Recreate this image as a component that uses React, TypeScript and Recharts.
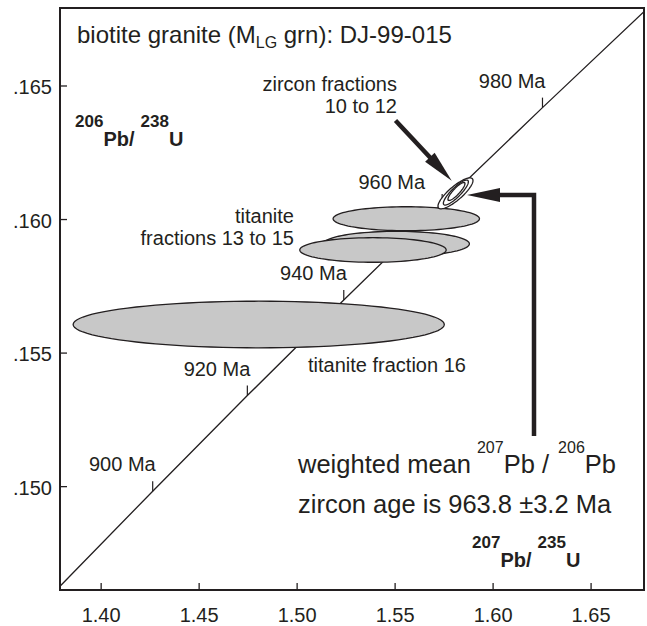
import React from "react";
import {
  ComposedChart,
  Line,
  Scatter,
  XAxis,
  YAxis,
  Customized,
} from "recharts";

// concordia at each age
const concordiaAge = [880, 900, 920, 940, 960, 980, 1000];
const concordiaPb207U235 = [1.379, 1.4263, 1.4746, 1.5238, 1.574, 1.6252, 1.6774];
const concordiaPb206U238 = [0.14627, 0.14983, 0.15341, 0.15699, 0.16058, 0.16419, 0.16781];
const labelledAges = [900, 920, 940, 960, 980];

// titanite fractions: centre, half-widths of the error ellipse, correlation
const titaniteFraction = ["13", "14", "15", "16"];
const titaniteX = [1.5557, 1.5507, 1.5387, 1.4804];
const titaniteY = [0.16003, 0.15909, 0.15886, 0.15607];
const titaniteSx = [0.03735, 0.0372, 0.03735, 0.0947];
const titaniteSy = [0.000449, 0.000468, 0.00046, 0.000872];
const titaniteRho = [0, 0, 0, 0];

// zircon fractions
const zirconFraction = ["10", "11", "12"];
const zirconX = [1.5808, 1.581, 1.5813];
const zirconY = [0.16098, 0.16101, 0.16105];
const zirconSx = [0.00893, 0.00638, 0.00434];
const zirconSy = [0.00058, 0.000468, 0.000337];
const zirconRho = [0.83, 0.86, 0.87];

const xTicks = [1.4, 1.45, 1.5, 1.55, 1.6, 1.65];
const xTickLabels = ["1.40", "1.45", "1.50", "1.55", "1.60", "1.65"];
const yTicks = [0.15, 0.155, 0.16, 0.165];
const yTickLabels = [".150", ".155", ".160", ".165"];

const X_DOMAIN: [number, number] = [1.379, 1.677];
const Y_DOMAIN: [number, number] = [0.14613, 0.16792];

const W = 647;
const H = 626;
const MARGIN = { top: 8, right: 3, bottom: 0, left: 0 };
const Y_AXIS_W = 60;
const X_AXIS_H = 36;
const PLOT_L = MARGIN.left + Y_AXIS_W;
const PLOT_T = MARGIN.top;
const PLOT_W = W - PLOT_L - MARGIN.right;
const PLOT_H = H - PLOT_T - X_AXIS_H - MARGIN.bottom;
const KX = PLOT_W / (X_DOMAIN[1] - X_DOMAIN[0]);
const KY = PLOT_H / (Y_DOMAIN[1] - Y_DOMAIN[0]);

const INK = "#231f20";
const FONT = "'Liberation Sans', Arial, Helvetica, sans-serif";

const concordia = concordiaAge.map((age, i) => ({
  age,
  x: concordiaPb207U235[i],
  y: concordiaPb206U238[i],
}));
const ageTicks = concordia.filter((d) => labelledAges.includes(d.age));

const titanite = titaniteFraction.map((f, i) => ({
  fraction: f,
  x: titaniteX[i],
  y: titaniteY[i],
  sx: titaniteSx[i],
  sy: titaniteSy[i],
  rho: titaniteRho[i],
}));
const zircon = zirconFraction.map((f, i) => ({
  fraction: f,
  x: zirconX[i],
  y: zirconY[i],
  sx: zirconSx[i],
  sy: zirconSy[i],
  rho: zirconRho[i],
}));

function ellipsePath(cx: number, cy: number, rx: number, ry: number, rho: number) {
  const k = Math.sqrt(1 - rho * rho);
  let d = "";
  for (let i = 0; i <= 96; i++) {
    const t = (i / 96) * Math.PI * 2;
    const px = cx + rx * Math.cos(t);
    const py = cy - ry * (rho * Math.cos(t) + k * Math.sin(t));
    d += (i === 0 ? "M" : "L") + px.toFixed(2) + "," + py.toFixed(2);
  }
  return d + "Z";
}

const makeEllipse = (fill: string) => (props: any) => {
  const { cx, cy, payload } = props;
  if (cx == null || cy == null) return null;
  return (
    <path
      d={ellipsePath(cx, cy, payload.sx * KX, payload.sy * KY, payload.rho)}
      fill={fill}
      stroke={INK}
      strokeWidth={1.3}
    />
  );
};

const AgeTick = (props: any) => {
  const { cx, cy, payload } = props;
  if (cx == null || cy == null) return null;
  const special = payload.age === 960;
  return (
    <g>
      <line x1={cx} y1={cy} x2={cx} y2={cy - 10} stroke={INK} strokeWidth={1.2} />
      <text
        x={special ? cx - 17 : cx + 3}
        y={special ? cy - 15 : cy - 20}
        textAnchor="end"
        fontSize={20}
        fontFamily={FONT}
        fill={INK}
      >
        {payload.age} Ma
      </text>
    </g>
  );
};

const XTick = (props: any) => {
  const { x, y, payload } = props;
  const i = xTicks.indexOf(payload.value);
  return (
    <g>
      <line x1={x} y1={y} x2={x} y2={y - 7} stroke={INK} strokeWidth={1.3} />
      <text x={x} y={y + 32} textAnchor="middle" fontSize={20} fontFamily={FONT} fill={INK}>
        {xTickLabels[i]}
      </text>
    </g>
  );
};

const YTick = (props: any) => {
  const { x, y, payload } = props;
  const i = yTicks.indexOf(payload.value);
  return (
    <g>
      <line x1={x} y1={y} x2={x + 7} y2={y} stroke={INK} strokeWidth={1.3} />
      <text x={x - 8} y={y + 8} textAnchor="end" fontSize={20} fontFamily={FONT} fill={INK}>
        {yTickLabels[i]}
      </text>
    </g>
  );
};

function arrowHead(tipX: number, tipY: number, angle: number, len: number, half: number) {
  const c = Math.cos(angle);
  const s = Math.sin(angle);
  const bx = tipX - len * c;
  const by = tipY - len * s;
  return `M${tipX},${tipY} L${bx - half * s},${by + half * c} L${bx + half * s},${by - half * c} Z`;
}

const Annotations = () => {
  const zA = Math.atan2(180.7 - 120.5, 451.7 - 395.5);
  const txt = { fontFamily: FONT, fill: INK };
  return (
    <g>
      {/* title */}
      <text x={77} y={43} fontSize={24} {...txt}>
        biotite granite (M
        <tspan fontSize={16} dy={5}>LG</tspan>
        <tspan fontSize={24} dy={-5}> grn): DJ-99-015</tspan>
      </text>

      {/* axis names */}
      <text x={75} y={127} fontSize={17} fontWeight="bold" {...txt}>
        206
        <tspan fontSize={20} dy={19}>Pb/</tspan>
        <tspan fontSize={17} dy={-19} dx={6}>238</tspan>
        <tspan fontSize={20} dy={19}>U</tspan>
      </text>
      <text x={472} y={548} fontSize={17} fontWeight="bold" {...txt}>
        207
        <tspan fontSize={20} dy={19}>Pb/</tspan>
        <tspan fontSize={17} dy={-19} dx={6}>235</tspan>
        <tspan fontSize={20} dy={19}>U</tspan>
      </text>

      {/* fraction labels */}
      <text x={397} y={91} fontSize={20} textAnchor="end" {...txt}>zircon fractions</text>
      <text x={397} y={113} fontSize={20} textAnchor="end" {...txt}>10 to 12</text>
      <text x={294} y={223} fontSize={20} textAnchor="end" {...txt}>titanite</text>
      <text x={294} y={245} fontSize={20} textAnchor="end" {...txt}>fractions 13 to 15</text>
      <text x={308} y={372} fontSize={20} {...txt}>titanite fraction 16</text>

      {/* weighted mean */}
      <text x={298} y={473} fontSize={25.5} {...txt}>
        weighted mean
        <tspan fontSize={16} dy={-20} dx={6}>207</tspan>
        <tspan fontSize={25.5} dy={20}>Pb / </tspan>
        <tspan fontSize={16} dy={-20} dx={2}>206</tspan>
        <tspan fontSize={25.5} dy={20}>Pb</tspan>
      </text>
      <text x={298} y={513} fontSize={25.5} {...txt}>zircon age is 963.8 ±3.2 Ma</text>

      {/* arrow to the zircon ellipses */}
      <line
        x1={395.5}
        y1={120.5}
        x2={451.7 - 20 * Math.cos(zA)}
        y2={180.7 - 20 * Math.sin(zA)}
        stroke={INK}
        strokeWidth={4.5}
      />
      <path d={arrowHead(451.7, 180.7, zA, 32, 6.5)} fill={INK} />

      {/* arrow from the mean age text */}
      <polyline
        points={`534,436 534,195 492,195`}
        fill="none"
        stroke={INK}
        strokeWidth={4.5}
        strokeLinejoin="miter"
      />
      <path d={arrowHead(467, 195, Math.PI, 33, 7)} fill={INK} />

      {/* frame */}
      <rect x={PLOT_L} y={PLOT_T} width={PLOT_W} height={PLOT_H} fill="none" stroke={INK} strokeWidth={2} />
    </g>
  );
};

export default function App() {
  return (
    <div style={{ position: "absolute", left: 0, top: 0, width: W, height: H, background: "#fff" }}>
      <ComposedChart width={W} height={H} margin={MARGIN}>
        <XAxis
          dataKey="x"
          type="number"
          domain={X_DOMAIN}
          allowDataOverflow
          ticks={xTicks}
          height={X_AXIS_H}
          axisLine={false}
          tickLine={false}
          tickSize={0}
          tickMargin={0}
          tick={<XTick />}
          interval={0}
        />
        <YAxis
          dataKey="y"
          type="number"
          domain={Y_DOMAIN}
          allowDataOverflow
          ticks={yTicks}
          width={Y_AXIS_W}
          axisLine={false}
          tickLine={false}
          tickSize={0}
          tickMargin={0}
          tick={<YTick />}
          interval={0}
        />
        <Scatter data={titanite} shape={makeEllipse("#c8c8c8")} isAnimationActive={false} />
        <Line
          data={concordia}
          dataKey="y"
          type="linear"
          stroke={INK}
          strokeWidth={1.3}
          dot={false}
          activeDot={false}
          isAnimationActive={false}
        />
        <Scatter data={ageTicks} shape={<AgeTick />} isAnimationActive={false} />
        <Scatter data={zircon} shape={makeEllipse("#ffffff")} isAnimationActive={false} />
        <Customized component={Annotations} />
      </ComposedChart>
    </div>
  );
}
